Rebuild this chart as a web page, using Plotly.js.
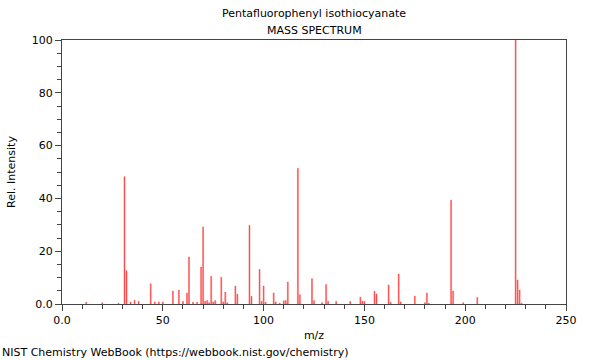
<!DOCTYPE html>
<html>
<head>
<meta charset="utf-8">
<script src="https://cdn.plot.ly/plotly-3.0.1.min.js"></script>
<style>html,body{margin:0;padding:0;background:#fff;}#chart{width:600px;height:360px;}</style>
</head>
<body>
<div id="chart"></div>
<script>
const mz = [12, 20, 28, 31, 32, 34, 36, 38, 44, 46, 48, 50, 55, 58, 60, 62, 63, 65, 67, 69, 70, 71, 72, 73, 74, 75, 76, 79, 80, 81, 82, 86, 87, 93, 94, 98, 99, 100, 101, 105, 106, 108, 110, 111, 112, 117, 118, 124, 125, 129, 131, 132, 136, 143, 148, 149, 150, 155, 156, 162, 163, 167, 168, 175, 180, 181, 182, 193, 194, 199, 206, 225, 226, 227, 228];
const intensity = [0.7, 0.5, 0.3, 48.2, 12.6, 0.8, 1.4, 1.0, 7.7, 0.8, 0.8, 0.8, 4.9, 5.3, 1.0, 4.2, 17.8, 0.7, 0.7, 14.0, 29.2, 1.0, 1.3, 0.5, 10.5, 0.8, 1.3, 10.1, 0.8, 4.5, 0.5, 6.8, 3.7, 29.8, 2.9, 13.1, 1.0, 6.8, 0.7, 4.2, 0.8, 0.3, 1.2, 1.3, 8.3, 51.4, 3.5, 9.6, 1.3, 0.5, 7.4, 1.0, 1.0, 1.0, 2.6, 1.0, 1.0, 4.8, 3.8, 7.2, 0.7, 11.4, 0.8, 3.0, 0.5, 4.2, 0.3, 39.4, 4.9, 0.5, 2.5, 100, 9.1, 5.3, 0.3];
const xTickVals = [0, 50, 100, 150, 200, 250];
const xTickText = ['0.0', '50', '100', '150', '200', '250'];
const yTickVals = [0, 20, 40, 60, 80, 100];
const yTickText = ['0.0', '20', '40', '60', '80', '100'];
const compoundName = 'Pentafluorophenyl isothiocyanate';
const subTitle = 'MASS SPECTRUM';
const xLabel = 'm/z';
const yLabel = 'Rel. Intensity';
const footer = 'NIST Chemistry WebBook (https://webbook.nist.gov/chemistry)';

const font = {family: 'DejaVu Sans, sans-serif', size: 11, color: '#000'};
const axisColor = '#444';
const barColor = 'rgba(255,40,40,0.75)';

const trace = {
  type: 'bar',
  x: mz,
  y: intensity,
  width: 0.5,
  marker: {color: barColor, line: {width: 0.5, color: barColor}},
  hoverinfo: 'x+y'
};

const layout = {
  width: 600, height: 360,
  margin: {l: 62, r: 34, t: 40, b: 56},
  paper_bgcolor: '#fff', plot_bgcolor: '#fff',
  font: font,
  showlegend: false,
  bargap: 0,
  title: {text: compoundName, x: 314/600, xanchor: 'center', y: 1 - 13/360, yref: 'container', yanchor: 'middle', font: font},
  xaxis: {
    range: [0, 250], showgrid: false, zeroline: false,
    showline: true, linecolor: axisColor, linewidth: 1, mirror: true,
    ticks: 'outside', ticklen: 6, tickcolor: axisColor, tickwidth: 1,
    tickmode: 'array', tickvals: xTickVals, ticktext: xTickText,
    tickfont: font,
    minor: {tickmode: 'linear', tick0: 0, dtick: 10, ticks: 'outside', ticklen: 4, tickcolor: axisColor, showgrid: false},
    title: {text: xLabel, font: font, standoff: 5}
  },
  yaxis: {
    range: [0, 100], showgrid: false, zeroline: false,
    showline: true, linecolor: axisColor, linewidth: 1, mirror: true,
    ticks: 'outside', ticklen: 6, tickcolor: axisColor, tickwidth: 1,
    tickmode: 'array', tickvals: yTickVals, ticktext: yTickText,
    tickfont: font,
    minor: {tickmode: 'linear', tick0: 0, dtick: 5, ticks: 'outside', ticklen: 4, tickcolor: axisColor, showgrid: false},
    title: {text: yLabel, font: font, standoff: 13}
  },
  annotations: [
    {text: subTitle, xref: 'paper', yref: 'paper', x: 0.5, y: (304 - 30) / 264, xanchor: 'center', yanchor: 'middle', showarrow: false, font: font},
    {text: footer, xref: 'paper', yref: 'paper', x: -62/504, y: (304 - 352) / 264, xanchor: 'left', yanchor: 'middle', showarrow: false, font: font}
  ]
};

Plotly.newPlot('chart', [trace], layout, {staticPlot: true, displayModeBar: false});
</script>
</body>
</html>
